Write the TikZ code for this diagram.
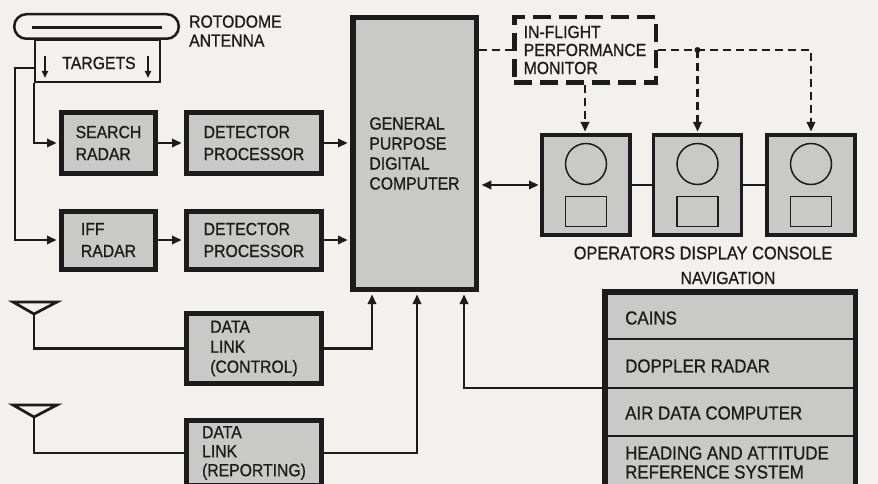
\documentclass[tikz,border=0pt]{standalone}
\usepackage{fontspec}
\setmainfont{Liberation Sans}[FakeStretch=0.9,FakeBold=0.8]
\usetikzlibrary{arrows.meta}
\definecolor{bg}{RGB}{242,241,237}
\definecolor{boxfill}{RGB}{201,201,199}
\definecolor{ink}{RGB}{28,28,28}
\begin{document}
\begin{tikzpicture}[x=1pt,y=-1pt,
  every node/.style={text=ink, font=\fontsize{17.5}{20}\selectfont},
  blk/.style={draw=ink, fill=boxfill, line width=5pt, inner sep=0pt, align=left},
  con/.style={draw=ink, fill=boxfill, line width=3.5pt, inner sep=0pt, minimum width=88pt, minimum height=100pt},
  scr/.style={draw=ink, circle, line width=1.5pt, inner sep=0pt, minimum size=41pt},
  kbd/.style={draw=ink, line width=1.5pt, inner sep=0pt, minimum width=41pt, minimum height=30pt},
  wire/.style={draw=ink, line width=2.2pt},
  arr/.style={wire, -{Triangle[length=9.5pt,width=8.5pt]}, shorten >=2.5pt},
  tarr/.style={draw=ink, line width=1.8pt, -{Triangle[length=7pt,width=6pt]}},
  dwire/.style={wire, dash pattern=on 8pt off 5pt},
  darr/.style={dwire, -{Triangle[length=9.5pt,width=8.5pt]}, shorten >=1.75pt},
  lbl/.style={inner sep=0pt, align=left, anchor=west},
  navtxt/.style={lbl, font=\fontsize{18.8}{20}\selectfont}
]
\clip (0,0) rectangle (878,484);
\fill[bg] (0,0) rectangle (878,484);

% rotodome and targets frame
\node[draw=ink, line width=2.2pt, minimum width=125pt, minimum height=42pt, inner sep=0pt] (tgt) at (97.5,61) {};
\node[draw=ink, fill=bg, line width=2.5pt, rounded corners=12pt, minimum width=164.5pt, minimum height=24.5pt, inner sep=0pt] (roto) at (96.5,26.5) {};
\coordinate (rl) at (32,27.5);
\coordinate (rr) at (162,27.5);
\draw[draw=ink, line width=2.5pt] (rl) -- (rr);
\node[lbl, font=\fontsize{17.5}{19}\selectfont] (rotolbl) at (189,31) {ROTODOME\\ANTENNA};
\node[inner sep=0pt] (tgtlbl) at (99,63) {TARGETS};
\coordinate (ta1) at (45,56);
\coordinate (ta2) at (148,56);
\draw[tarr] (ta1) -- ++(0,22);
\draw[tarr] (ta2) -- ++(0,22);

% radar chain
\node[blk, minimum width=94pt, minimum height=61pt, font=\fontsize{17.5}{22}\selectfont] (search) at (108.5,143) {SEARCH\\RADAR};
\node[blk, minimum width=135pt, minimum height=61pt, font=\fontsize{17.5}{22}\selectfont] (dp1) at (254,143) {DETECTOR\\PROCESSOR};
\node[blk, minimum width=94pt, minimum height=58pt, font=\fontsize{17.5}{22}\selectfont] (iff) at (108.5,240) {IFF\\RADAR};
\node[blk, minimum width=135pt, minimum height=58pt, font=\fontsize{17.5}{22}\selectfont] (dp2) at (254,240) {DETECTOR\\PROCESSOR};
\node[blk, minimum width=135pt, minimum height=70pt] (dlc) at (254,348.5) {DATA\\LINK\\(CONTROL)};
\node[blk, minimum width=135pt, minimum height=65pt, font=\fontsize{17.5}{19}\selectfont] (dlr) at (254,453) {DATA\\LINK\\(REPORTING)};

% computer
\node[blk, line width=5.5pt, minimum width=123.5pt, minimum height=271.5pt] (comp) at (414.5,153.5) {GENERAL\\PURPOSE\\DIGITAL\\COMPUTER};

% in-flight monitor
\node[draw=ink, line width=4.5pt, dash pattern=on 18pt off 8pt, minimum width=141.5pt, minimum height=65.5pt, inner sep=0pt, align=left, font=\fontsize{17.5}{18}\selectfont] (mon) at (585,50) {IN-FLIGHT\\PERFORMANCE\\MONITOR};

% consoles
\node[con] (c1) at (586,185) {};
\node[con] (c2) at (697.5,185) {};
\node[con] (c3) at (811,185) {};
\foreach \c in {c1,c2,c3} {
  \node[scr] (\c s) at ([yshift=21pt]\c.center) {};
  \node[kbd] (\c k) at ([yshift=-26.5pt]\c.center) {};
}
\node[inner sep=0pt, font=\fontsize{18.2}{20}\selectfont] (ops) at (703,253) {OPERATORS DISPLAY CONSOLE};
\node[inner sep=0pt] (navlbl) at (728,278) {NAVIGATION};

% navigation
\node[draw=ink, fill=boxfill, line width=5.5pt, minimum width=250.5pt, minimum height=200pt, inner sep=0pt] (nav) at (730,391.75) {};
\coordinate (d1) at (730,339);
\coordinate (d2) at (730,388);
\coordinate (d3) at (730,436);
\foreach \d in {d1,d2,d3} {\draw[wire] (nav.west |- \d) -- (nav.east |- \d);}
\node[navtxt] (cains) at (625,318) {CAINS};
\node[navtxt] (dop) at (625,366) {DOPPLER RADAR};
\node[navtxt] (adc) at (625,413) {AIR DATA COMPUTER};
\node[navtxt, font=\fontsize{18.8}{19}\selectfont] (hars) at (625,462.5) {HEADING AND ATTITUDE\\REFERENCE SYSTEM};

% wires from antenna
\coordinate (split) at (35,68);
\coordinate (bend) at (15,68);
\draw[arr] (tgt.south west) |- (search.west);
\draw[arr] (split) -- (bend) |- (iff.west);
\draw[arr] (search.east) -- (dp1.west);
\draw[arr] (iff.east) -- (dp2.west);
\draw[arr] (dp1.east) -- (dp1.east -| comp.west);
\draw[arr] (dp2.east) -- (dp2.east -| comp.west);

% data link antennas
\draw[wire, line width=2.7pt, line join=miter] (13,302) -- (57,302) -- (34,314) -- cycle;
\coordinate (ant1) at (34,314);
\draw[wire] (ant1) |- (dlc.west);
\draw[wire, line width=2.7pt, line join=miter] (13,405) -- (57,405) -- (34,417) -- cycle;
\coordinate (ant2) at (34,417);
\draw[wire] (ant2) |- (dlr.west);

\draw[arr] (dlc.east) -| ([xshift=-42.5pt]comp.south);
\draw[arr] (dlr.east) -| ([xshift=2.5pt]comp.south);
\draw[arr] (nav.west |- d2) -| ([xshift=49.5pt]comp.south);

% computer to consoles
\draw[wire, {Triangle[length=9.5pt,width=8.5pt]}-{Triangle[length=9.5pt,width=8.5pt]}, shorten <=2.75pt, shorten >=1.75pt] (c1.west -| comp.east) -- (c1.west);
\draw[wire] (c1.east) -- (c2.west);
\draw[wire] (c2.east) -- (c3.west);

% dashed monitor lines
\draw[dwire] (mon.west -| comp.east) -- (mon.west);
\coordinate (jn) at (c2.north |- mon.east);
\draw[darr] (mon.east) -| (c3.north);
\draw[darr] (jn) -- (c2.north);
\draw[darr] (mon.south) -- (mon.south |- c1.north);
\fill[ink] (jn) circle (3pt);
\end{tikzpicture}
\end{document}
